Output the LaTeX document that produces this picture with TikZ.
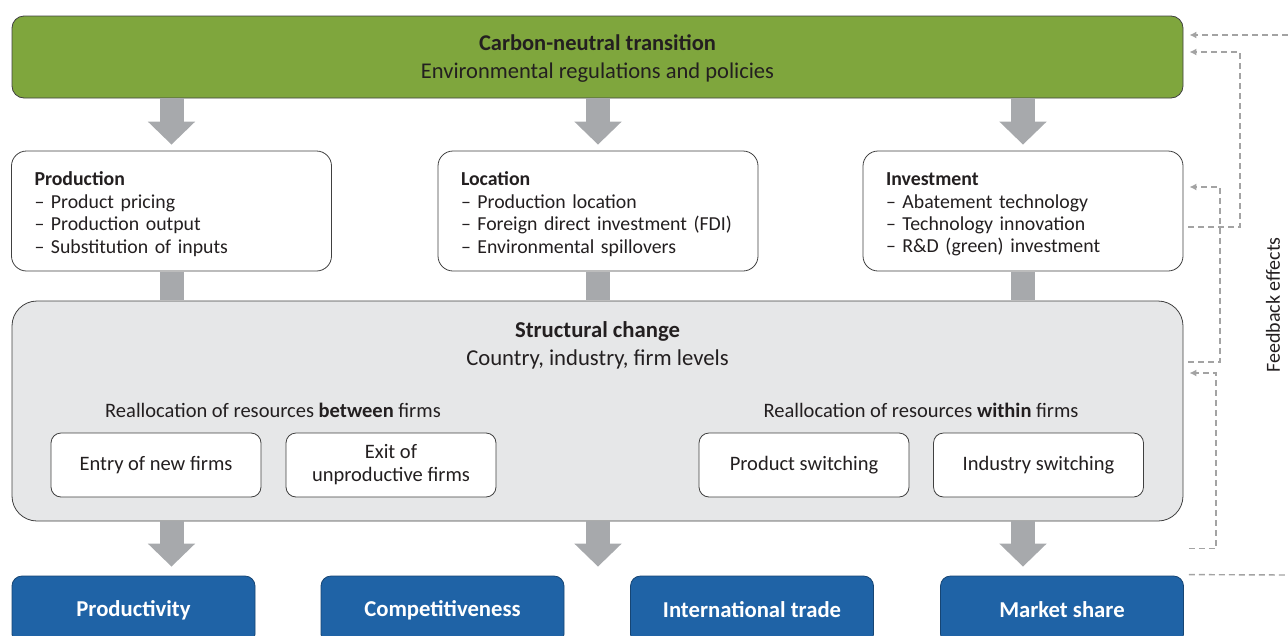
\documentclass[tikz,border=0pt]{standalone}
\usepackage{fontspec}
\setmainfont{Carlito}
\usetikzlibrary{arrows.meta,positioning}

\definecolor{greenbox}{HTML}{7FA63D}
\definecolor{bluebox}{HTML}{1F63A6}
\definecolor{structfill}{HTML}{E6E7E8}
\definecolor{arrowgray}{HTML}{A7A9AC}
\definecolor{feedgray}{HTML}{A3A3A3}
\definecolor{textgray}{HTML}{231F20}

\tikzset{
  basebox/.style={draw=black!75, line width=0.8pt, inner sep=0pt, text=textgray},
  topbox/.style={basebox, fill=greenbox, rounded corners=12pt, minimum width=1171pt, minimum height=82pt},
  areabox/.style={basebox, fill=white, rounded corners=15pt, minimum width=319pt, minimum height=120pt,
    inner xsep=23pt, text width=274pt, text height=20pt, align=left, font=\fontsize{19.8}{22.4}\selectfont},
  structbox/.style={basebox, fill=structfill, rounded corners=25pt, minimum width=1171pt, minimum height=220pt},
  firmbox/.style={basebox, fill=white, rounded corners=10pt, minimum width=210pt, minimum height=64pt,
    align=center, font=\fontsize{20.5}{23}\selectfont},
  outbox/.style={draw=bluebox!70!black, line width=0.8pt, fill=bluebox, rounded corners=10pt,
    minimum width=243pt, minimum height=68pt, text=white, font=\fontsize{22.7}{26}\selectfont\bfseries},
  plain/.style={text=textgray, font=\fontsize{20.5}{24}\selectfont},
  blockarrow/.style={arrowgray, line width=24pt, -{Triangle[width=46pt,length=23pt]}},
  blockbar/.style={arrowgray, line width=24pt},
  feedback/.style={feedgray, line width=1.4pt, dash pattern=on 6pt off 4pt},
  feedtip/.style={feedback, -{Latex[length=7pt,width=7pt]}}
}

\begin{document}
\begin{tikzpicture}[x=1pt, y=-1pt]
\useasboundingbox (0,0) rectangle (1288,635);

% top level
\node[topbox] (transition) at (597.5,57) {};
\node[plain, align=center, font=\fontsize{22.5}{28}\selectfont] (transtitle) at (597.5,59) {\textbf{Carbon-neutral transition}\\ Environmental regulations and policies};

% channels
\node[areabox] (prod) at (171.5,211) {\textbf{Production}\\ – Product pricing\\ – Production output\\ – Substitution of inputs};
\node[areabox] (loc) at (598,211) {\textbf{Location}\\ – Production location\\ – Foreign direct investment (FDI)\\ – Environmental spillovers};
\node[areabox] (inv) at (1023,211) {\textbf{Investment}\\ – Abatement technology\\ – Technology innovation\\ – R\&D (green) investment};

% structural change
\node[structbox] (struct) at (597.5,411) {};
\node[plain, align=center, font=\fontsize{22.7}{28}\selectfont] (structtitle) at (597.5,345) {\textbf{Structural change}\\ Country, industry, firm levels};
\node[plain] (between) at (273,410) {Reallocation of resources \textbf{between} firms};
\node[plain] (within) at (921,410) {Reallocation of resources \textbf{within} firms};
\node[firmbox] (entry) at (156,465) {Entry of new firms};
\node[firmbox] (exit) at (391,465) {Exit of\\ unproductive firms};
\node[firmbox] (product) at (804,465) {Product switching};
\node[firmbox] (industry) at (1038.5,465) {Industry switching};

% outcomes
\node[outbox] (prodty) at (133.5,610) {Productivity};
\node[outbox] (compet) at (442.5,610) {Competitiveness};
\node[outbox] (trade) at (752,610) {International trade};
\node[outbox] (market) at (1062,610) {Market share};

% block arrows
\foreach \n in {prod,loc,inv}{
  \draw[blockarrow, shorten >=6pt] (transition.south -| \n.north) -- (\n.north);
  \draw[blockbar, shorten <=0.5pt, shorten >=0.5pt] (\n.south) -- (\n.south |- struct.north);
  \draw[blockarrow, shorten >=9pt] (struct.south -| \n.south) -- (\n.south |- prodty.north);
}

% feedback effects
\coordinate (fbtop) at (1288,35);
\coordinate (fbbottom) at (1288,575);
\draw[feedtip] (fbtop) -- ([xshift=6pt]transition.east |- fbtop);
\draw[feedtip] ([shift={(5,16)}]inv.east) -| (1240,52) -- ([shift={(6,-5)}]transition.east);
\draw[feedtip] ([shift={(5,-49)}]struct.east) -| (1220,187) -- ([shift={(6,-24)}]inv.east);
\draw[feedtip] ([shift={(5,-27)}]market.north east) -| (1216,373) -- ([shift={(6,-38)}]struct.east);
\draw[feedback] ([shift={(5,-1)}]market.north east) -- (fbbottom);
\node[plain, rotate=90, font=\fontsize{20}{24}\selectfont] (feedlabel) at (1273,305) {Feedback effects};
\end{tikzpicture}
\end{document}
